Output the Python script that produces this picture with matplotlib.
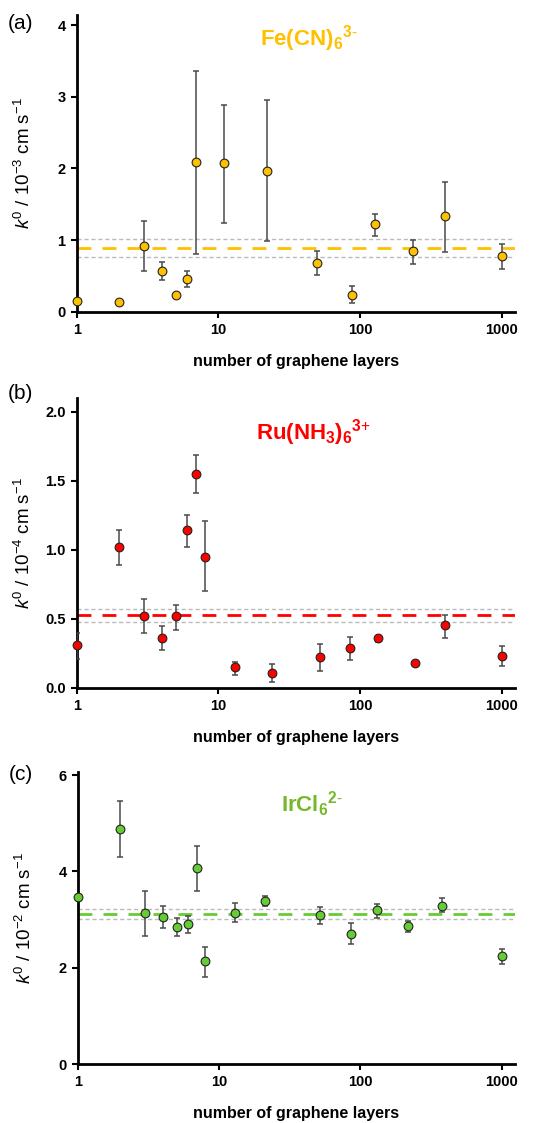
import numpy as np
import matplotlib
matplotlib.use('Agg')
import matplotlib.pyplot as plt

plt.rcParams['font.family'] = ['Liberation Sans', 'DejaVu Sans']
plt.rcParams['mathtext.fontset'] = 'custom'
plt.rcParams['mathtext.rm'] = 'Liberation Sans'
plt.rcParams['mathtext.it'] = 'Liberation Sans:italic'
plt.rcParams['mathtext.bf'] = 'Liberation Sans:bold'

# (a) Fe(CN)6 3-
fe_layers = [1, 2, 3, 4, 5, 6, 7, 11, 22, 50, 87, 128, 235, 400, 1000]
fe_k = [0.15, 0.13, 0.92, 0.57, 0.23, 0.46, 2.09, 2.07, 1.97, 0.68, 0.24, 1.22, 0.85, 1.33, 0.78]
fe_lo = [0.0, 0.0, 0.35, 0.13, 0.0, 0.11, 1.29, 0.83, 0.98, 0.17, 0.12, 0.17, 0.18, 0.50, 0.18]
fe_hi = [0.0, 0.0, 0.35, 0.13, 0.0, 0.11, 1.27, 0.82, 0.98, 0.17, 0.12, 0.15, 0.15, 0.48, 0.17]
fe_mean, fe_band = 0.89, (0.77, 1.02)

# (b) Ru(NH3)6 3+
ru_layers = [1, 2, 3, 4, 5, 6, 7, 8, 13, 24, 52, 85, 133, 244, 400, 1000]
ru_k = [0.31, 1.02, 0.52, 0.36, 0.52, 1.14, 1.55, 0.95, 0.15, 0.11, 0.22, 0.285, 0.357, 0.176, 0.454, 0.232]
ru_lo = [0.10, 0.13, 0.12, 0.09, 0.10, 0.12, 0.14, 0.25, 0.06, 0.07, 0.10, 0.085, 0.027, 0.012, 0.094, 0.075]
ru_hi = [0.09, 0.12, 0.12, 0.09, 0.08, 0.11, 0.14, 0.26, 0.04, 0.06, 0.10, 0.08, 0.018, 0.012, 0.076, 0.068]
ru_mean, ru_band = 0.524, (0.478, 0.57)

# (c) IrCl6 2-
ir_layers = [1, 2, 3, 4, 5, 6, 7, 8, 13, 21, 52, 86, 132, 217, 380, 1000]
ir_k = [3.47, 4.89, 3.13, 3.06, 2.85, 2.91, 4.07, 2.13, 3.14, 3.39, 3.09, 2.71, 3.19, 2.87, 3.29, 2.24]
ir_lo = [0.0, 0.59, 0.47, 0.23, 0.19, 0.18, 0.47, 0.33, 0.19, 0.10, 0.18, 0.22, 0.15, 0.12, 0.14, 0.16]
ir_hi = [0.0, 0.58, 0.47, 0.23, 0.19, 0.17, 0.46, 0.31, 0.20, 0.10, 0.17, 0.22, 0.14, 0.10, 0.15, 0.15]
ir_mean, ir_band = 3.12, (3.02, 3.21)

panels = [
    dict(tag='(a)', tag_y=0.973, x=fe_layers, y=fe_k, lo=fe_lo, hi=fe_hi, mean=fe_mean, band=fe_band,
         color='#FFC000', tcolor='#FFC000',
         ion=r'Fe(CN)$_{\mathbf{6}}$$^{\mathbf{3\text{-}}}$', ion_x=0.53, ion_y=0.92,
         exp='-3', ylim=4.14, yticks=[0, 1, 2, 3, 4], fmt='{:.0f}',
         rect=[0.1423, 0.7224, 0.8132, 0.2642]),
    dict(tag='(b)', tag_y=1.014, x=ru_layers, y=ru_k, lo=ru_lo, hi=ru_hi, mean=ru_mean, band=ru_band,
         color='#FF0000', tcolor='#FF0000',
         ion=r'Ru(NH$_{\mathbf{3}}$)$_{\mathbf{6}}$$^{\mathbf{3\text{+}}}$', ion_x=0.54, ion_y=0.88,
         exp='-4', ylim=2.1, yticks=[0, 0.5, 1.0, 1.5, 2.0], fmt='{:.1f}',
         rect=[0.1423, 0.3876, 0.8132, 0.258]),
    dict(tag='(c)', tag_y=0.992, x=ir_layers, y=ir_k, lo=ir_lo, hi=ir_hi, mean=ir_mean, band=ir_band,
         color='#66CC33', tcolor='#76B82A',
         ion=r'IrCl$_{\mathbf{6}}$$^{\mathbf{2\text{-}}}$', ion_x=0.535, ion_y=0.89,
         exp='-2', ylim=6.07, yticks=[0, 2, 4, 6], fmt='{:.0f}',
         rect=[0.1442, 0.0525, 0.8113, 0.2603]),
]

fig = plt.figure(figsize=(5.39, 11.23), dpi=100)

for p in panels:
    ax = fig.add_axes(p['rect'])
    ax.set_xscale('log')
    ax.set_xlim(1, 1240)
    ax.set_ylim(0, p['ylim'])

    # mean value and its band
    ax.axhline(p['band'][0], color='#BBBBBB', lw=1.0, ls=(0, (3, 2)), zorder=1)
    ax.axhline(p['band'][1], color='#BBBBBB', lw=1.0, ls=(0, (3, 2)), zorder=1)
    ax.axhline(p['mean'], color=p['color'], lw=2.0, ls=(0, (5, 4)), zorder=2)

    ax.errorbar(p['x'], p['y'], yerr=[p['lo'], p['hi']], fmt='none', ecolor='#4A4A4A',
                elinewidth=1.1, capsize=2.5, capthick=1.1, zorder=3)
    ax.plot(p['x'], p['y'], 'o', ms=6.3, mfc=p['color'], mec='#222222', mew=0.8,
            zorder=4, clip_on=False)

    for s in ['top', 'right']:
        ax.spines[s].set_visible(False)
    for s in ['left', 'bottom']:
        ax.spines[s].set_linewidth(2.0)

    ax.set_xticks([1, 10, 100, 1000])
    ax.set_xticklabels(['1', '10', '100', '1000'])
    ax.xaxis.set_minor_locator(matplotlib.ticker.NullLocator())
    ax.set_yticks(p['yticks'])
    ax.set_yticklabels([p['fmt'].format(v) for v in p['yticks']])
    ax.tick_params(axis='both', direction='out', length=4, width=1.5, labelsize=10.5, pad=4)
    for lab in ax.get_xticklabels() + ax.get_yticklabels():
        lab.set_fontweight('bold')

    ax.set_xlabel('number of graphene layers', fontsize=11.5, fontweight='bold', labelpad=12)
    ax.set_ylabel(r'$\mathit{k}^{0}$ / 10$^{' + p['exp'] + r'}$ cm s$^{-1}$', fontsize=13.5)
    ax.yaxis.set_label_coords(-0.098, 0.5)

    ax.text(p['ion_x'], p['ion_y'], p['ion'], transform=ax.transAxes, color=p['tcolor'],
            fontsize=16, fontweight='bold', ha='center', va='center')
    ax.text(-0.157, p['tag_y'], p['tag'], transform=ax.transAxes, fontsize=15,
            ha='left', va='center')

fig.savefig('out.png', dpi=100)
